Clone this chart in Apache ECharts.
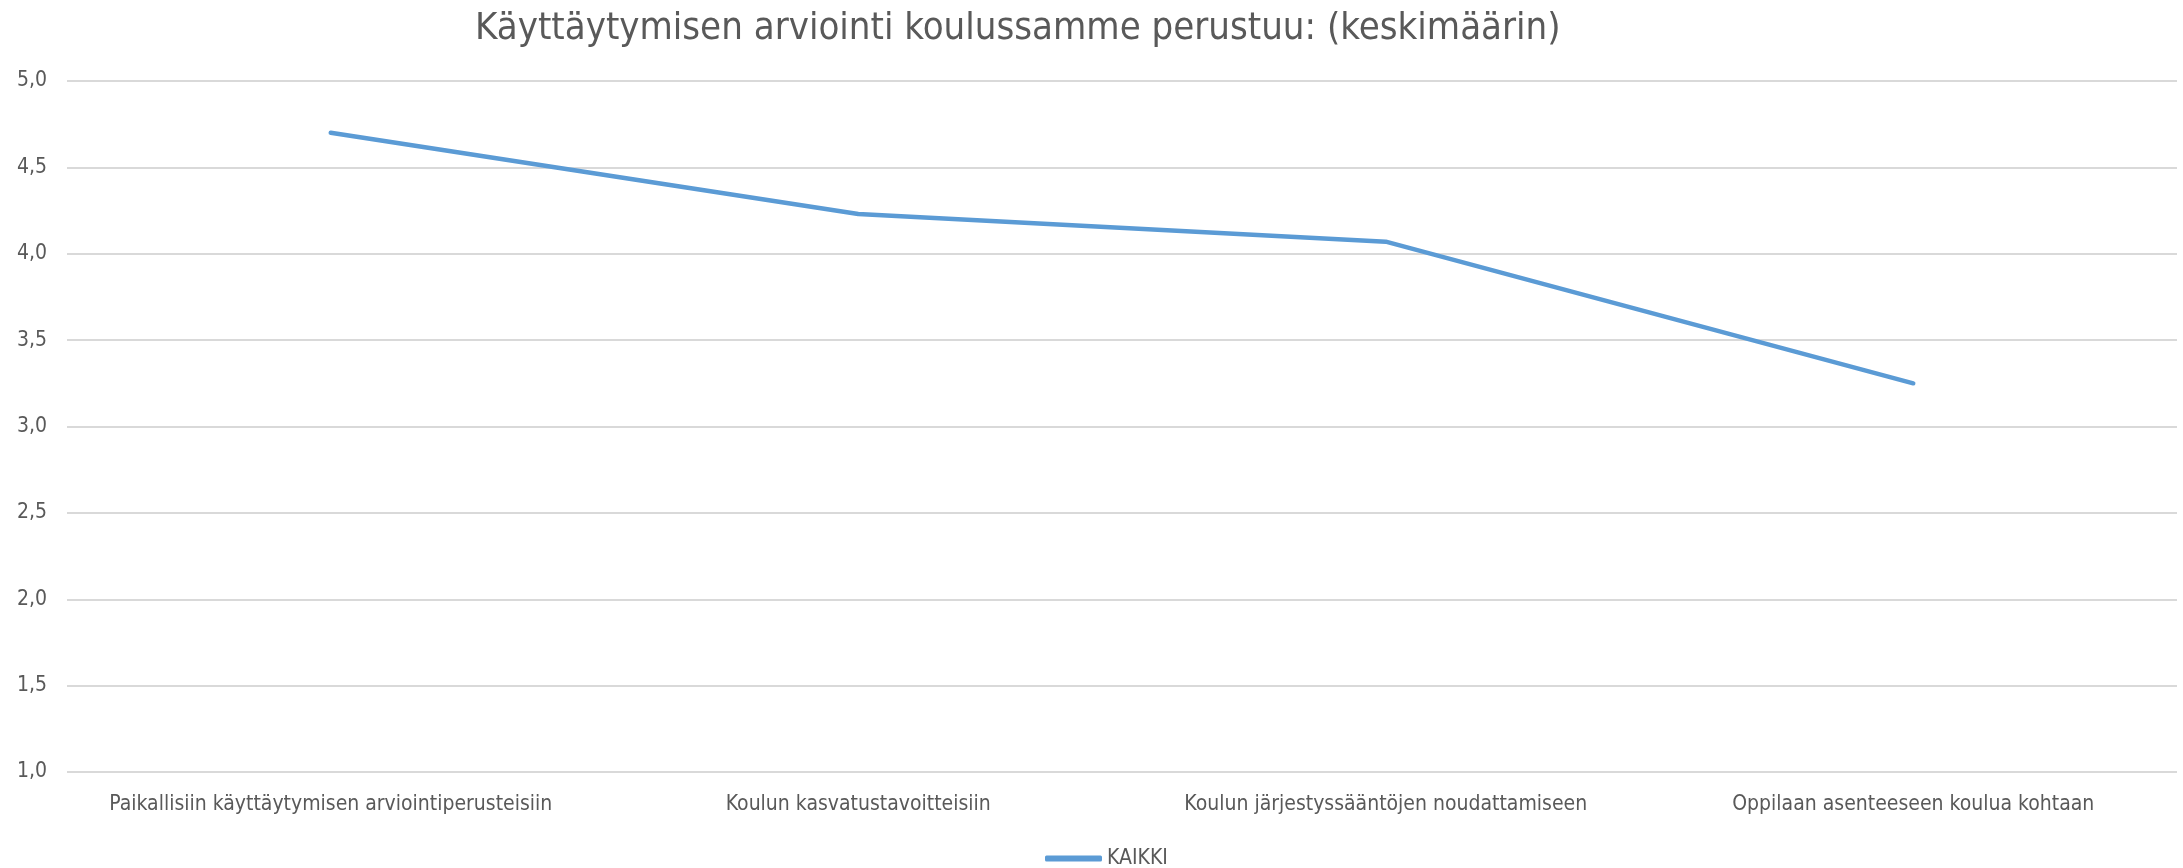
<!DOCTYPE html>
<html>
<head>
<meta charset="utf-8">
<script src="https://cdn.jsdelivr.net/npm/echarts@6/dist/echarts.min.js"></script>
<style>
html,body{margin:0;padding:0;background:#fff;}
#chart{width:2183px;height:868px;}
</style>
</head>
<body>
<div id="chart"></div>
<script>
var categories=['Paikallisiin käyttäytymisen arviointiperusteisiin','Koulun kasvatustavoitteisiin','Koulun järjestyssääntöjen noudattamiseen','Oppilaan asenteeseen koulua kohtaan'];
var kaikki=[4.70,4.23,4.07,3.25];
var seriesName='KAIKKI';
var chartTitle='Käyttäytymisen arviointi koulussamme perustuu: (keskimäärin)';

var font="'Liberation Sans Narrow','DejaVu Sans Condensed',sans-serif";
var txt='#595959';

var chart=echarts.init(document.getElementById('chart'));
var option={
    animation:false,
    textStyle:{fontFamily:font},
    title:{
        text:chartTitle,
        left:470,
        top:5,
        textStyle:{fontFamily:font,fontSize:38,fontWeight:'normal',color:txt}
    },
    legend:{
        data:[{name:seriesName,icon:'roundRect'}],
        top:843,
        left:1040,
        itemWidth:57,
        itemHeight:6,
        textStyle:{fontFamily:font,fontSize:21,color:txt}
    },
    grid:{left:67,right:6,top:81,bottom:96},
    xAxis:{
        type:'category',
        data:categories,
        boundaryGap:true,
        axisLine:{show:false},
        axisTick:{show:false},
        axisLabel:{fontFamily:font,fontSize:21,color:txt,margin:22,interval:0}
    },
    yAxis:{
        type:'value',
        min:1,
        max:5,
        interval:0.5,
        axisLine:{show:false},
        axisTick:{show:false},
        splitLine:{lineStyle:{color:'#d9d9d9',width:2}},
        axisLabel:{
            fontFamily:font,fontSize:21,color:txt,margin:20,
            formatter:function(v){return v.toFixed(1).replace('.',',');}
        }
    },
    series:[{
        name:seriesName,
        type:'line',
        data:kaikki,
        symbol:'none',
        lineStyle:{color:'#5b9bd5',width:4.5,cap:'round'},
        itemStyle:{color:'#5b9bd5'}
    }]
};
chart.setOption(option);
</script>
</body>
</html>
